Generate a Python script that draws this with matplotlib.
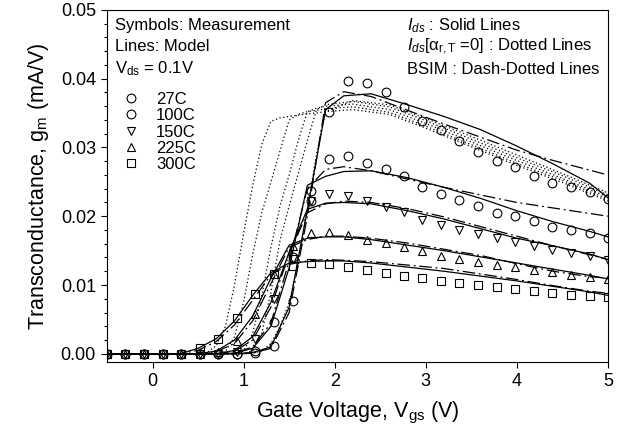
import matplotlib
matplotlib.use('Agg')
import matplotlib.pyplot as plt
from matplotlib.ticker import MultipleLocator, FormatStrFormatter

plt.rcParams['font.family'] = ['Liberation Sans', 'DejaVu Sans']
plt.rcParams['mathtext.fontset'] = 'custom'
plt.rcParams['mathtext.rm'] = 'Liberation Sans'
plt.rcParams['mathtext.it'] = 'Liberation Sans:italic'

# measured gate voltages (V)
vgs_meas = [-0.5, -0.3, -0.09, 0.11, 0.31, 0.52, 0.72, 0.93, 1.13, 1.33,
            1.54, 1.74, 1.94, 2.15, 2.35, 2.56, 2.76, 2.96, 3.17, 3.37,
            3.57, 3.78, 3.98, 4.19, 4.39, 4.59, 4.80, 5.0]

# measured gm (mA/V)
gm_27 = [0, 0, 0, 0, 0, 0, 0, 0, 0.0001, 0.0012,
         0.0077, 0.0222, 0.0351, 0.0396, 0.0394, 0.0380, 0.0359, 0.0338, 0.0325, 0.0310,
         0.0293, 0.0280, 0.0271, 0.0259, 0.0249, 0.0242, 0.0235, 0.0225]
gm_100 = [0, 0, 0, 0, 0, 0, 0, 0, 0.0004, 0.0046,
          0.0140, 0.0236, 0.0283, 0.0288, 0.0278, 0.0268, 0.0258, 0.0242, 0.0232, 0.0224,
          0.0215, 0.0204, 0.0200, 0.0193, 0.0185, 0.0180, 0.0175, 0.0168]
gm_150 = [0, 0, 0, 0, 0, 0, 0, 0.0003, 0.0022, 0.0080,
          0.0138, 0.0222, 0.0233, 0.0230, 0.0222, 0.0214, 0.0206, 0.0195, 0.0187, 0.0180,
          0.0174, 0.0168, 0.0162, 0.0157, 0.0151, 0.0146, 0.0142, 0.0136]
gm_225 = [0, 0, 0, 0, 0, 0, 0.0003, 0.0018, 0.0058, 0.0116,
          0.0157, 0.0175, 0.0177, 0.0172, 0.0165, 0.0161, 0.0155, 0.0149, 0.0142, 0.0138,
          0.0133, 0.0129, 0.0126, 0.0122, 0.0119, 0.0114, 0.0112, 0.0109]
gm_300 = [0, 0, 0, 0, 0, 0.0009, 0.0022, 0.0052, 0.0087, 0.0116,
          0.0128, 0.0132, 0.0130, 0.0126, 0.0122, 0.0117, 0.0113, 0.0110, 0.0106, 0.0103,
          0.0100, 0.0097, 0.0094, 0.0091, 0.0088, 0.0086, 0.0084, 0.0083]

# model curves: Ids (solid) and BSIM (dash-dot)
vgs_model = [-0.5, 0.3, 0.5, 0.7, 0.9, 1.1, 1.3, 1.5, 1.7, 1.9,
             2.1, 2.4, 2.8, 3.2, 3.6, 4.0, 4.4, 4.8, 5.0]
ids_27 = [0, 0, 0, 0, 0, 0.0002, 0.0010, 0.0068, 0.0210, 0.0355,
          0.0375, 0.0378, 0.0362, 0.0345, 0.0326, 0.0302, 0.0276, 0.0248, 0.0227]
ids_100 = [0, 0, 0, 0, 0.0001, 0.0008, 0.0040, 0.0125, 0.0245, 0.0258,
           0.0265, 0.0266, 0.0256, 0.0242, 0.0226, 0.0208, 0.0192, 0.0178, 0.0170]
ids_150 = [0, 0, 0, 0, 0.0005, 0.0025, 0.0075, 0.0148, 0.0210, 0.0219,
           0.0220, 0.0218, 0.0208, 0.0196, 0.0182, 0.0168, 0.0157, 0.0145, 0.0137]
ids_225 = [0, 0, 0, 0.0004, 0.0020, 0.0055, 0.0110, 0.0158, 0.0168, 0.0170,
           0.0170, 0.0166, 0.0158, 0.0150, 0.0141, 0.0132, 0.0123, 0.0114, 0.0109]
ids_300 = [0, 0, 0.0008, 0.0022, 0.0048, 0.0085, 0.0118, 0.0132, 0.0134, 0.0135,
           0.0135, 0.0132, 0.0126, 0.0120, 0.0113, 0.0106, 0.0098, 0.0090, 0.0085]

bsim_27 = [0, 0, 0, 0, 0, 0.0001, 0.0008, 0.0060, 0.0200, 0.0365,
           0.0381, 0.0374, 0.0354, 0.0334, 0.0315, 0.0296, 0.0281, 0.0267, 0.0260]
bsim_100 = [0, 0, 0, 0, 0.0001, 0.0010, 0.0045, 0.0135, 0.0240, 0.0268,
            0.0272, 0.0266, 0.0254, 0.0242, 0.0231, 0.0220, 0.0212, 0.0204, 0.0200]
bsim_150 = [0, 0, 0, 0, 0.0004, 0.0020, 0.0068, 0.0145, 0.0205, 0.0218,
            0.0222, 0.0220, 0.0211, 0.0199, 0.0185, 0.0171, 0.0157, 0.0144, 0.0137]
bsim_225 = [0, 0, 0, 0.0003, 0.0015, 0.0048, 0.0102, 0.0155, 0.0166, 0.0171,
            0.0171, 0.0168, 0.0161, 0.0152, 0.0143, 0.0131, 0.0120, 0.0112, 0.0110]
bsim_300 = [0, 0, 0.0005, 0.0018, 0.0042, 0.0078, 0.0115, 0.0130, 0.0135, 0.0137,
            0.0136, 0.0134, 0.0129, 0.0124, 0.0116, 0.0108, 0.0099, 0.0091, 0.0088]

# Ids with alpha_r,T = 0 (dotted)
vgs_dot = [-0.5, 0.5, 0.6, 0.7, 0.8, 0.9, 1.0, 1.1, 1.2, 1.3, 1.4, 1.5,
           1.6, 1.7, 1.8, 1.9, 2.2, 2.6, 3.0, 3.5, 4.0, 4.5, 5.0]
dot_300 = [0, 0, 0.0002, 0.0012, 0.0040, 0.0100, 0.0175, 0.0245, 0.0305, 0.0338, 0.0343, 0.0345,
           0.0347, 0.0349, 0.0350, 0.0352, 0.0355, 0.0348, 0.0328, 0.0301, 0.0274, 0.0249, 0.0222]
dot_225 = [0, 0, 0, 0, 0.0003, 0.0025, 0.0075, 0.0145, 0.0205, 0.0250, 0.0295, 0.0340,
           0.0348, 0.0352, 0.0354, 0.0356, 0.0359, 0.0351, 0.0331, 0.0304, 0.0277, 0.0252, 0.0225]
dot_150 = [0, 0, 0, 0, 0, 0, 0.0004, 0.0030, 0.0085, 0.0155, 0.0215, 0.0260,
           0.0310, 0.0352, 0.0357, 0.0360, 0.0363, 0.0355, 0.0335, 0.0308, 0.0281, 0.0255, 0.0228]
dot_100 = [0, 0, 0, 0, 0, 0, 0, 0.0005, 0.0030, 0.0090, 0.0165, 0.0215,
           0.0262, 0.0310, 0.0355, 0.0362, 0.0367, 0.0359, 0.0339, 0.0312, 0.0285, 0.0259, 0.0231]
dot_27 = [0, 0, 0, 0, 0, 0, 0, 0.0001, 0.0004, 0.0015, 0.0040, 0.0075,
          0.0130, 0.0210, 0.0290, 0.0352, 0.0368, 0.0362, 0.0342, 0.0316, 0.0289, 0.0262, 0.0234]

temps = ['27C', '100C', '150C', '225C', '300C']
markers = ['o', 'o', 'v', '^', 's']
meas = [gm_27, gm_100, gm_150, gm_225, gm_300]
ids = [ids_27, ids_100, ids_150, ids_225, ids_300]
bsim = [bsim_27, bsim_100, bsim_150, bsim_225, bsim_300]
dots = [dot_27, dot_100, dot_150, dot_225, dot_300]

fig = plt.figure(figsize=(6.26, 4.47), dpi=100)
ax = fig.add_axes([0.171, 0.19, 0.800, 0.788])

for d in dots:
    ax.plot(vgs_dot, d, color='black', lw=0.9, linestyle=(0, (1, 2)))
for b in bsim:
    ax.plot(vgs_model, b, color='black', lw=0.9, linestyle=(0, (10, 3, 1.5, 3)))
for s in ids:
    ax.plot(vgs_model, s, color='black', lw=0.9)

handles = []
for t, m, g in zip(temps, markers, meas):
    h, = ax.plot(vgs_meas, g, linestyle='none', marker=m, ms=6.3,
                 mfc='none', mec='black', mew=0.8, label=t)
    handles.append(h)

ax.set_xlim(-0.5, 5)
ax.set_ylim(-0.0012, 0.05)
ax.xaxis.set_major_locator(MultipleLocator(1))
ax.yaxis.set_major_locator(MultipleLocator(0.01))
ax.yaxis.set_minor_locator(MultipleLocator(0.002))
ax.yaxis.set_major_formatter(FormatStrFormatter('%.2f'))
ax.tick_params(which='both', direction='out', top=False, right=False, labelsize=13)
ax.tick_params(which='major', length=4, width=0.8, pad=4)
ax.tick_params(which='minor', length=2.5, width=0.8)
for sp in ax.spines.values():
    sp.set_linewidth(0.8)

ax.set_xlabel('Gate Voltage, V$_{\\mathrm{gs}}$ (V)', fontsize=15.5, labelpad=7)
ax.set_ylabel('Transconductance, g$_{\\mathrm{m}}$ (mA/V)', fontsize=15.5, labelpad=7)

ax.text(0.016, 0.955, 'Symbols: Measurement', transform=ax.transAxes, fontsize=12, va='center')
ax.text(0.016, 0.895, 'Lines: Model', transform=ax.transAxes, fontsize=12, va='center')
ax.text(0.016, 0.832, 'V$_{\\mathrm{ds}}$ = 0.1V', transform=ax.transAxes, fontsize=12, va='center')

ax.text(0.598, 0.955, '$I_{ds}$ : Solid Lines', transform=ax.transAxes, fontsize=12, va='center')
ax.text(0.598, 0.895, '$I_{ds}$[α$_{\\mathrm{r,T}}$ =0] : Dotted Lines',
        transform=ax.transAxes, fontsize=12, va='center')
ax.text(0.598, 0.832, 'BSIM : Dash-Dotted Lines', transform=ax.transAxes, fontsize=12, va='center')

ax.legend(handles=handles, loc='upper left', bbox_to_anchor=(0.005, 0.80),
          frameon=False, fontsize=12, handlelength=1.2, handletextpad=0.9,
          labelspacing=0.08, borderpad=0.2)

fig.savefig('out.png', dpi=100)
